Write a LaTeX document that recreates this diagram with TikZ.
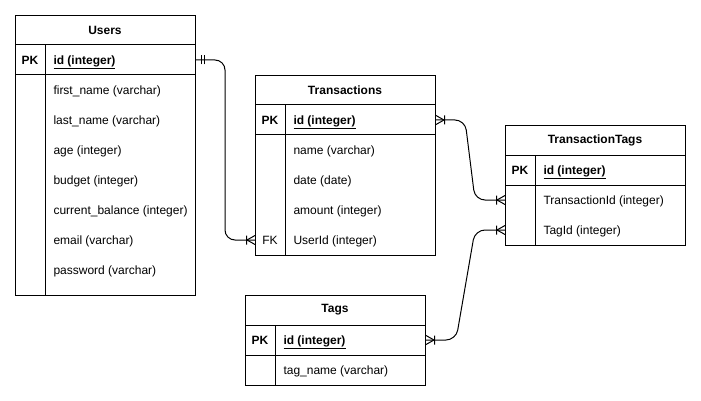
\documentclass[tikz,border=0pt]{standalone}
\usepackage{fontspec}
\setmainfont{Liberation Sans}
\usetikzlibrary{arrows.meta}

% crow's foot ends
\pgfdeclarearrow{
  name = ERone,
  setup code = {
    \pgfarrowssettipend{0pt}
    \pgfarrowssetlineend{0pt}
    \pgfarrowssetbackend{-9pt}
    \pgfarrowshullpoint{0pt}{5pt}
    \pgfarrowshullpoint{0pt}{-5pt}
    \pgfarrowshullpoint{-9pt}{5pt}
    \pgfarrowshullpoint{-9pt}{-5pt}
  },
  drawing code = {
    \pgfsetdash{}{0pt}
    \pgfpathmoveto{\pgfpoint{-5pt}{4.5pt}}
    \pgfpathlineto{\pgfpoint{-5pt}{-4.5pt}}
    \pgfpathmoveto{\pgfpoint{-8pt}{4.5pt}}
    \pgfpathlineto{\pgfpoint{-8pt}{-4.5pt}}
    \pgfusepathqstroke
  }
}
\pgfdeclarearrow{
  name = ERmany,
  setup code = {
    \pgfarrowssettipend{0pt}
    \pgfarrowssetlineend{0pt}
    \pgfarrowssetbackend{-9pt}
    \pgfarrowshullpoint{0pt}{5pt}
    \pgfarrowshullpoint{0pt}{-5pt}
    \pgfarrowshullpoint{-9pt}{5pt}
    \pgfarrowshullpoint{-9pt}{-5pt}
  },
  drawing code = {
    \pgfsetdash{}{0pt}
    \pgfpathmoveto{\pgfpoint{-8pt}{0pt}}
    \pgfpathlineto{\pgfpoint{0pt}{4.5pt}}
    \pgfpathmoveto{\pgfpoint{-8pt}{0pt}}
    \pgfpathlineto{\pgfpoint{0pt}{-4.5pt}}
    \pgfpathmoveto{\pgfpoint{-8.5pt}{4.5pt}}
    \pgfpathlineto{\pgfpoint{-8.5pt}{-4.5pt}}
    \pgfusepathqstroke
  }
}

\begin{document}
\begin{tikzpicture}[x=1pt, y=-1pt, line width=1pt,
    tablebox/.style={draw, minimum width=180pt, anchor=north west, inner sep=0pt},
    tabletitle/.style={font=\fontsize{12pt}{14pt}\selectfont\bfseries, inner sep=0pt},
    keycell/.style={font=\fontsize{12pt}{14pt}\selectfont\bfseries, inner sep=0pt,
      text height=10.9pt, text depth=2.5pt},
    fieldtext/.style={anchor=west, inner sep=0pt, text height=10.9pt, text depth=2.5pt,
      font=\fontsize{12pt}{14pt}\selectfont},
    pkfield/.style={fieldtext, font=\fontsize{12pt}{14pt}\selectfont\bfseries},
    relline/.style={rounded corners=10pt}]
  \useasboundingbox (0,0) rectangle (701,401);

  % Users
  \node[tablebox, minimum height=280pt] (users) at (15,15) {};
  \node[tabletitle] (users-title) at (105,30) {Users};
  \draw (15,45) -- (195,45) (15,75) -- (195,75) (45,45) -- (45,295);
  \node[keycell] (users-pk) at (30,60) {PK};
  \node[pkfield] (users-id) at (53,60) {\underline{id (integer)}};
  \node[fieldtext] (users-first) at (53,90) {first\_name (varchar)};
  \node[fieldtext] (users-last) at (53,120) {last\_name (varchar)};
  \node[fieldtext] (users-age) at (53,150) {age (integer)};
  \node[fieldtext] (users-budget) at (53,180) {budget (integer)};
  \node[fieldtext] (users-balance) at (53,210) {current\_balance (integer)};
  \node[fieldtext] (users-email) at (53,240) {email (varchar)};
  \node[fieldtext] (users-password) at (53,270) {password (varchar)};

  % Transactions
  \node[tablebox, minimum height=180pt] (trans) at (255,75) {};
  \node[tabletitle] (trans-title) at (345,90) {Transactions};
  \draw (255,105) -- (435,105) (255,135) -- (435,135) (285,105) -- (285,255);
  \node[keycell] (trans-pk) at (270,120) {PK};
  \node[pkfield] (trans-id) at (293,120) {\underline{id (integer)}};
  \node[fieldtext] (trans-name) at (293,150) {name (varchar)};
  \node[fieldtext] (trans-date) at (293,180) {date (date)};
  \node[fieldtext] (trans-amount) at (293,210) {amount (integer)};
  \node[keycell, font=\fontsize{12pt}{14pt}\selectfont] (trans-fk) at (270,240) {FK};
  \node[fieldtext] (trans-user) at (293,240) {UserId (integer)};

  % TransactionTags
  \node[tablebox, minimum height=120pt] (tt) at (505,125) {};
  \node[tabletitle] (tt-title) at (595,140) {TransactionTags};
  \draw (505,155) -- (685,155) (505,185) -- (685,185) (535,155) -- (535,245);
  \node[keycell] (tt-pk) at (520,170) {PK};
  \node[pkfield] (tt-id) at (543,170) {\underline{id (integer)}};
  \node[fieldtext] (tt-transid) at (543,200) {TransactionId (integer)};
  \node[fieldtext] (tt-tagid) at (543,230) {TagId (integer)};

  % Tags
  \node[tablebox, minimum height=90pt] (tags) at (245,295) {};
  \node[tabletitle] (tags-title) at (335,310) {Tags};
  \draw (245,325) -- (425,325) (245,355) -- (425,355) (275,325) -- (275,385);
  \node[keycell] (tags-pk) at (260,340) {PK};
  \node[pkfield] (tags-id) at (283,340) {\underline{id (integer)}};
  \node[fieldtext] (tags-name) at (283,370) {tag\_name (varchar)};

  % relations
  \draw[relline, ERone-ERmany] (users-id -| users.east) -- (225,60) -- (225,240)
    -- (trans-fk -| trans.west);
  \draw[relline, ERmany-ERmany] (trans-id -| trans.east) -- (465,120) -- (475,200)
    -- (tt-transid -| tt.west);
  \draw[relline, ERmany-ERmany] (tags-id -| tags.east) -- (456,340) -- (475,230)
    -- (tt-tagid -| tt.west);
\end{tikzpicture}
\end{document}
